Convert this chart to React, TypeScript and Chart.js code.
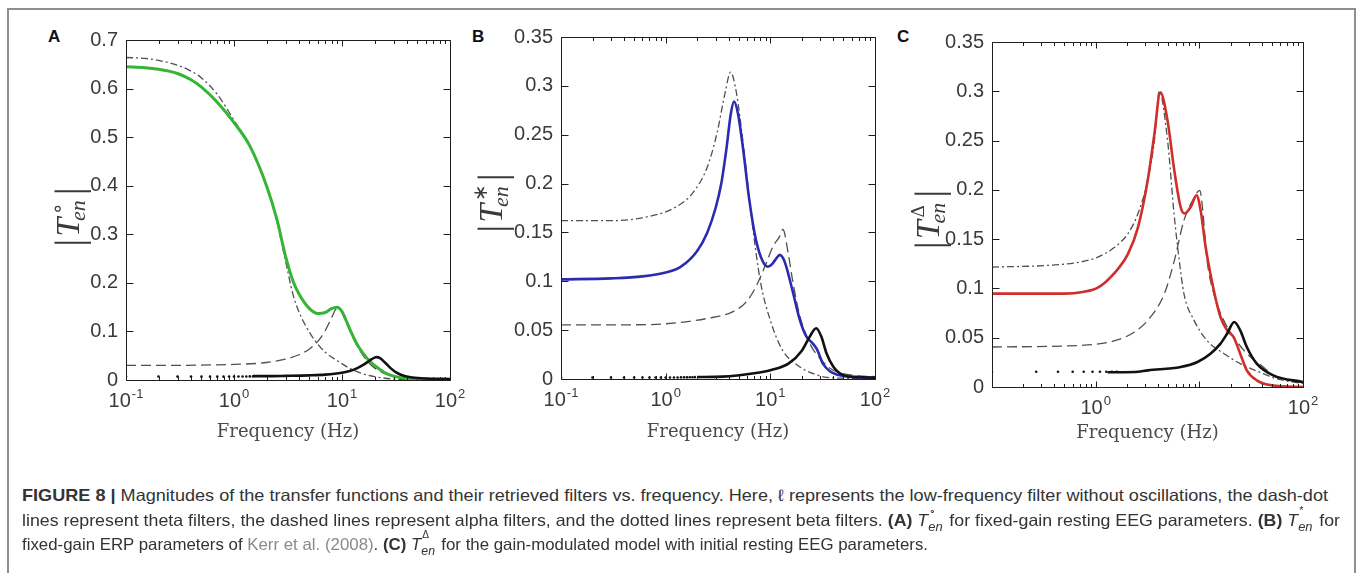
import React, { useEffect, useLayoutEffect, useRef } from 'react';
import { Chart, registerables } from 'chart.js';

Chart.register(...registerables);

// ---------------- tick labels ----------------
const xDecadesAB = [0.1, 1, 10, 100];
const xLabelExpAB = ['-1', '0', '1', '2'];
const xDecadesC = [1, 100];
const xLabelExpC = ['0', '2'];
const yTicksA = [0, 0.1, 0.2, 0.3, 0.4, 0.5, 0.6, 0.7];
const yTicksBC = [0, 0.05, 0.1, 0.15, 0.2, 0.25, 0.3, 0.35];

// ---------------- panel A ----------------
const aThetaF = [0.1, 0.15, 0.2, 0.3, 0.4, 0.5, 0.7, 1, 1.4, 2, 2.5, 3, 3.5, 4, 5, 6, 7, 9, 12, 15, 20, 30, 50, 100];
const aThetaV = [0.664, 0.662, 0.658, 0.648, 0.636, 0.622, 0.588, 0.535, 0.482, 0.4, 0.325, 0.245, 0.178, 0.14, 0.098, 0.073, 0.057, 0.04, 0.023, 0.014, 0.007, 0.002, 0.0005, 0];
const aTotalF = [0.1, 0.15, 0.2, 0.25, 0.3, 0.4, 0.5, 0.7, 1, 1.4, 2, 2.5, 3, 3.5, 4, 5, 6, 7, 8, 9, 10, 11, 12, 14, 17, 20, 25, 30, 40, 60, 100];
const aTotalV = [0.645, 0.643, 0.64, 0.636, 0.631, 0.618, 0.603, 0.572, 0.53, 0.482, 0.4, 0.33, 0.255, 0.205, 0.177, 0.147, 0.137, 0.139, 0.147, 0.15, 0.141, 0.121, 0.101, 0.071, 0.045, 0.03, 0.015, 0.008, 0.003, 0.001, 0.0005];
const aAlphaF = [0.1, 0.3, 0.6, 1, 2, 3, 4, 5, 6, 7, 8, 8.7, 9.2, 10, 11, 12, 14, 17, 20, 25, 30, 40, 60, 100];
const aAlphaV = [0.03, 0.03, 0.031, 0.032, 0.036, 0.043, 0.052, 0.064, 0.08, 0.102, 0.128, 0.145, 0.148, 0.138, 0.118, 0.098, 0.068, 0.04, 0.025, 0.013, 0.007, 0.003, 0.001, 0.0005];
const aBetaF = [1.5, 2, 3, 5, 7, 10, 12, 14, 16, 18, 20, 21, 22.5, 25, 28, 32, 38, 45, 60, 100];
const aBetaV = [0.008, 0.008, 0.0085, 0.0095, 0.011, 0.015, 0.019, 0.025, 0.032, 0.04, 0.046, 0.047, 0.045, 0.036, 0.025, 0.015, 0.008, 0.005, 0.003, 0.002];
const aDotF = [0.1, 0.2, 0.3, 0.4, 0.5, 0.6, 0.7, 0.8, 0.9, 1.0, 1.1, 1.2, 1.3, 1.4, 1.5];
const aDotV = [0.0075, 0.0072, 0.007, 0.007, 0.0069, 0.0069, 0.0069, 0.0069, 0.007, 0.007, 0.0071, 0.0072, 0.0073, 0.0074, 0.0075];

// ---------------- panel B ----------------
const bThetaF = [0.1, 0.3, 0.6, 1.2, 1.8, 2.5, 3.1, 3.7, 4.17, 4.74, 5.5, 6.6, 8, 10, 13, 19, 25, 33, 50, 100];
const bThetaV = [0.162, 0.162, 0.165, 0.175, 0.19, 0.217, 0.252, 0.293, 0.314, 0.293, 0.241, 0.166, 0.101, 0.06, 0.03, 0.0126, 0.006, 0.002, 0.0008, 0];
const bTotalF = [0.1, 0.3, 0.6, 1.0, 1.4, 2, 2.5, 3, 3.4, 3.8, 4.2, 4.5, 4.9, 5.5, 6.3, 7.3, 8.5, 9.5, 10.5, 11.5, 12.3, 13.2, 14.2, 16.5, 19.2, 22.2, 25.6, 28, 31.7, 37, 45, 60, 100];
const bTotalV = [0.102, 0.103, 0.105, 0.109, 0.115, 0.131, 0.15, 0.175, 0.2, 0.235, 0.272, 0.284, 0.272, 0.235, 0.183, 0.142, 0.12, 0.115, 0.118, 0.124, 0.127, 0.124, 0.115, 0.088, 0.06, 0.043, 0.036, 0.03, 0.016, 0.008, 0.004, 0.002, 0.001];
const bAlphaF = [0.1, 0.5, 1, 2.5, 4.4, 5.9, 7.3, 9.1, 10.6, 12.3, 13.2, 14.8, 16.5, 19.2, 23.8, 31.7, 40, 60, 100];
const bAlphaV = [0.0553, 0.0555, 0.0565, 0.062, 0.069, 0.079, 0.0946, 0.118, 0.1356, 0.146, 0.153, 0.129, 0.098, 0.064, 0.0365, 0.0178, 0.009, 0.004, 0.0024];
const bBetaF = [2, 3.5, 7, 10, 15, 20, 23.8, 27.4, 30.7, 34.4, 40, 50, 70, 100];
const bBetaV = [0.002, 0.0024, 0.0058, 0.009, 0.016, 0.029, 0.0434, 0.052, 0.0434, 0.0263, 0.0126, 0.004, 0.002, 0.0014];
const bDotF = [0.1, 0.2, 0.3, 0.4, 0.5, 0.6, 0.7, 0.8, 0.9, 1.0, 1.1, 1.2, 1.3, 1.4, 1.5, 1.6, 1.7, 1.8, 1.9];
const bDotV = [0.0015, 0.0015, 0.0015, 0.0015, 0.0015, 0.0015, 0.0015, 0.0015, 0.0015, 0.0016, 0.0016, 0.0016, 0.0016, 0.0017, 0.0017, 0.0017, 0.0018, 0.0018, 0.0019];

// ---------------- panel C ----------------
const cThetaF = [0.1, 0.35, 0.73, 1.06, 1.53, 2.05, 2.56, 3.18, 3.69, 4.1, 4.94, 5.7, 6.4, 7.1, 8.9, 11.9, 17.2, 24.8, 41.4, 55, 100];
const cThetaV = [0.1217, 0.1234, 0.127, 0.132, 0.142, 0.1556, 0.176, 0.21, 0.25, 0.3, 0.25, 0.176, 0.1285, 0.0947, 0.0676, 0.047, 0.034, 0.0237, 0.0135, 0.0085, 0.0034];
const cTotalF = [0.1, 0.5, 0.75, 1.06, 1.5, 2.05, 2.56, 3.18, 3.69, 4.2, 4.94, 5.73, 6.6, 7.2, 8.25, 9.4, 10.3, 11.5, 13.8, 16, 18.5, 21.4, 24.8, 28.7, 35.8, 50, 100];
const cTotalV = [0.0947, 0.0947, 0.0964, 0.101, 0.115, 0.135, 0.162, 0.21, 0.257, 0.299, 0.27, 0.22, 0.1826, 0.176, 0.1826, 0.1944, 0.179, 0.142, 0.098, 0.071, 0.0575, 0.0507, 0.0338, 0.0169, 0.0068, 0.0017, 0];
const cAlphaF = [0.1, 0.73, 1.53, 2.37, 3.18, 4.6, 5.73, 7.1, 8.6, 10.1, 10.7, 11.9, 13.8, 17.2, 21.4, 28.7, 41.4, 55, 100];
const cAlphaV = [0.0406, 0.0423, 0.047, 0.0558, 0.0676, 0.0947, 0.128, 0.169, 0.189, 0.1995, 0.183, 0.128, 0.0947, 0.0676, 0.0507, 0.034, 0.0203, 0.0101, 0.005];
const cBetaF = [1.3, 2.4, 3.2, 6.6, 9.6, 12.8, 16, 18.5, 21.7, 24.8, 28.7, 35.8, 51.6, 100];
const cBetaV = [0.015, 0.0152, 0.0169, 0.0203, 0.0254, 0.0338, 0.044, 0.054, 0.0659, 0.0575, 0.0406, 0.0237, 0.0118, 0.005];
const cDotF = [0.1, 0.267, 0.433, 0.6, 0.767, 0.933, 1.1, 1.267, 1.433, 1.6];
const cDotV = [0.0155, 0.0155, 0.0155, 0.0155, 0.0155, 0.0155, 0.0155, 0.0155, 0.0155, 0.0155];

// ---------------- helpers ----------------
const pts = (f: number[], v: number[]) => f.map((x, i) => ({ x, y: v[i] }));

function lineDs(data: any[], color: string, width: number, dash: number[] = []) {
  return {
    data,
    borderColor: color,
    borderWidth: width,
    borderDash: dash,
    pointRadius: 0,
    cubicInterpolationMode: 'monotone',
    fill: false,
    borderJoinStyle: 'round',
  };
}
function dotDs(data: any[]) {
  return {
    data,
    showLine: false,
    pointRadius: 1.3,
    pointBorderWidth: 0,
    pointBackgroundColor: '#111',
    pointBorderColor: '#111',
  };
}

const DASH = [10, 5];
const DASHDOT = [7, 3, 2, 3];
const GREY = '#505050';

type PanelCfg = {
  left: number; top: number; width: number; height: number;
  padTop: number; padRight: number; yWidth: number; xHeight: number;
  titlePadBottom: number;
  yMax: number; yTicks: number[];
  xDecades: number[]; xExp: string[];
  sup: string; supFont: string; labelDx: number; labelDy: number;
  datasets: any[];
};

function drawYLabel(ctx: CanvasRenderingContext2D, cx: number, cy: number, sup: string, supFont: string) {
  ctx.save();
  ctx.translate(cx, cy);
  ctx.rotate(-Math.PI / 2);
  ctx.fillStyle = '#3a3a3a';
  ctx.textBaseline = 'alphabetic';
  const barFont = '40px "Liberation Serif"';
  const tFont = 'italic 34px "Liberation Serif"';
  const subFont = 'italic 22px "Liberation Serif"';
  ctx.font = barFont; const wb = ctx.measureText('|').width;
  ctx.font = tFont; const wt = ctx.measureText('T').width;
  ctx.font = subFont; const ws = ctx.measureText('en').width;
  ctx.font = supFont; const wsup = ctx.measureText(sup).width;
  const wscript = Math.max(ws, wsup + 4);
  const total = wb + 2 + wt + wscript + 2 + wb;
  let x = -total / 2;
  const base = 12;
  ctx.font = barFont; ctx.fillText('|', x, base + 3); x += wb + 2;
  ctx.font = tFont; ctx.fillText('T', x, base); x += wt;
  ctx.font = supFont; ctx.fillText(sup, x + 3, base - 15);
  ctx.font = subFont; ctx.fillText('en', x - 3, base + 6); x += wscript + 2;
  ctx.font = barFont; ctx.fillText('|', x, base + 3);
  ctx.restore();
}

function makeAxesPlugin(cfg: PanelCfg) {
  return {
    id: 'matlabAxes',
    afterDraw(chart: any) {
      const { ctx, chartArea } = chart;
      const { left, right, top, bottom } = chartArea;
      const xs = chart.scales.x;
      const ys = chart.scales.y;
      ctx.save();
      ctx.strokeStyle = '#1e1e1e';
      ctx.lineWidth = 1;
      const L = Math.round(left) + 0.5, R = Math.round(right) + 0.5;
      const T = Math.round(top) + 0.5, B = Math.round(bottom) + 0.5;
      ctx.beginPath();
      ctx.rect(L, T, R - L, B - T);
      for (let d = -1; d <= 2; d++) {
        for (let m = 1; m <= 9; m++) {
          const v = m * Math.pow(10, d);
          if (v < 0.0999 || v > 100.01) continue;
          const px = Math.round(xs.getPixelForValue(v)) + 0.5;
          const len = m === 1 ? 6 : 3.5;
          ctx.moveTo(px, B); ctx.lineTo(px, B - len);
          ctx.moveTo(px, T); ctx.lineTo(px, T + len);
        }
      }
      for (const v of cfg.yTicks) {
        const py = Math.round(ys.getPixelForValue(v)) + 0.5;
        ctx.moveTo(L, py); ctx.lineTo(L + 7, py);
        ctx.moveTo(R, py); ctx.lineTo(R - 7, py);
      }
      ctx.stroke();
      ctx.fillStyle = '#3a3a3a';
      ctx.textBaseline = 'alphabetic';
      cfg.xDecades.forEach((v, i) => {
        const px = xs.getPixelForValue(v);
        ctx.font = '20px "Liberation Sans"';
        const w1 = ctx.measureText('10').width;
        ctx.font = '13px "Liberation Sans"';
        const w2 = ctx.measureText(cfg.xExp[i]).width;
        const x0 = px - (w1 + w2 + 1) / 2;
        ctx.font = '20px "Liberation Sans"';
        ctx.fillText('10', x0, bottom + 27);
        ctx.font = '13px "Liberation Sans"';
        ctx.fillText(cfg.xExp[i], x0 + w1 + 1, bottom + 18);
      });
      drawYLabel(ctx, left + cfg.labelDx, (top + bottom) / 2 + cfg.labelDy, cfg.sup, cfg.supFont);
      ctx.restore();
    },
  };
}

function Panel({ cfg }: { cfg: PanelCfg }) {
  const ref = useRef<HTMLCanvasElement | null>(null);
  useEffect(() => {
    if (!ref.current) return;
    const chart = new Chart(ref.current, {
      type: 'line',
      data: { datasets: cfg.datasets },
      options: {
        animation: false,
        responsive: false,
        maintainAspectRatio: false,
        layout: { padding: { top: cfg.padTop, right: cfg.padRight, left: 0, bottom: 0 } },
        plugins: { legend: { display: false }, tooltip: { enabled: false } },
        scales: {
          x: {
            type: 'logarithmic',
            min: 0.1,
            max: 100,
            afterBuildTicks: (s: any) => { s.ticks = cfg.xDecades.map((value) => ({ value })); },
            ticks: { display: false },
            grid: { display: false, drawTicks: false },
            border: { display: false },
            title: {
              display: true,
              text: 'Frequency (Hz)',
              color: '#4a4a4a',
              font: { family: '"DejaVu Serif"', size: 18 },
              padding: { top: 0, bottom: cfg.titlePadBottom },
            },
            afterFit: (s: any) => { s.height = cfg.xHeight; },
          },
          y: {
            type: 'linear',
            min: 0,
            max: cfg.yMax,
            afterBuildTicks: (s: any) => { s.ticks = cfg.yTicks.map((value) => ({ value })); },
            ticks: {
              padding: 8,
              color: '#3a3a3a',
              font: { family: '"Liberation Sans"', size: 20 },
              callback: (v: any) => String(v),
            },
            grid: { display: false, drawTicks: false },
            border: { display: false },
            afterFit: (s: any) => { s.width = cfg.yWidth; },
          },
        },
      } as any,
      plugins: [makeAxesPlugin(cfg)],
    });
    return () => chart.destroy();
  }, [cfg]);
  return (
    <canvas
      ref={ref}
      width={cfg.width}
      height={cfg.height}
      style={{ position: 'absolute', left: cfg.left, top: cfg.top, width: cfg.width, height: cfg.height }}
    />
  );
}

const panelA: PanelCfg = {
  left: 20, top: 20, width: 470, height: 440,
  padTop: 20, padRight: 40, yWidth: 106, xHeight: 80, titlePadBottom: 17,
  yMax: 0.7, yTicks: yTicksA, xDecades: xDecadesAB, xExp: xLabelExpAB,
  sup: '\u2218', supFont: '20px "DejaVu Sans"', labelDx: -59, labelDy: 7,
  datasets: [
    lineDs(pts(aBetaF, aBetaV), '#111', 2.6),
    lineDs(pts(aTotalF, aTotalV), '#35b535', 3),
    lineDs(pts(aAlphaF, aAlphaV), GREY, 1.3, DASH),
    lineDs(pts(aThetaF, aThetaV), GREY, 1.3, DASHDOT),
    dotDs(pts(aDotF, aDotV)),
  ],
};

const panelB: PanelCfg = {
  left: 455, top: 17, width: 440, height: 443,
  padTop: 20, padRight: 20, yWidth: 106, xHeight: 81, titlePadBottom: 17,
  yMax: 0.35, yTicks: yTicksBC, xDecades: xDecadesAB, xExp: xLabelExpAB,
  sup: '\u2217', supFont: '20px "DejaVu Sans"', labelDx: -71, labelDy: -5,
  datasets: [
    lineDs(pts(bBetaF, bBetaV), '#111', 2.6),
    lineDs(pts(bTotalF, bTotalV), '#2b2bb0', 2.6),
    lineDs(pts(bAlphaF, bAlphaV), GREY, 1.3, DASH),
    lineDs(pts(bThetaF, bThetaV), GREY, 1.3, DASHDOT),
    dotDs(pts(bDotF, bDotV)),
  ],
};

const panelC: PanelCfg = {
  left: 886, top: 22, width: 437, height: 443,
  padTop: 20, padRight: 20, yWidth: 106, xHeight: 78, titlePadBottom: 21,
  yMax: 0.35, yTicks: yTicksBC, xDecades: xDecadesC, xExp: xLabelExpC,
  sup: '\u0394', supFont: '19px "Liberation Serif"', labelDx: -65, labelDy: 5,
  datasets: [
    lineDs(pts(cBetaF, cBetaV), '#111', 2.6),
    lineDs(pts(cTotalF, cTotalV), '#cf2e2a', 2.6),
    lineDs(pts(cAlphaF, cAlphaV), GREY, 1.3, DASH),
    lineDs(pts(cThetaF, cThetaV), GREY, 1.3, DASHDOT),
    dotDs(pts(cDotF, cDotV)),
  ],
};

function Tsym({ sup }: { sup: string }) {
  return (
    <span style={{ whiteSpace: 'nowrap' }}>
      <i>T</i>
      <span style={{ position: 'relative', display: 'inline-block', width: 15 }}>
        <span style={{ position: 'absolute', left: 1, top: -9, fontSize: 10 }}>{sup}</span>
        <i style={{ position: 'relative', top: 5, fontSize: 12 }}>en</i>
      </span>
    </span>
  );
}

const captionTargets = [1306, 1318, 906];

function Caption() {
  const refs = [useRef<HTMLDivElement | null>(null), useRef<HTMLDivElement | null>(null), useRef<HTMLDivElement | null>(null)];
  useLayoutEffect(() => {
    refs.forEach((r, i) => {
      const el = r.current;
      if (!el) return;
      el.style.transform = 'none';
      const w = el.getBoundingClientRect().width;
      if (w > 0) el.style.transform = `scaleX(${captionTargets[i] / w})`;
    });
  }, []);
  const base: React.CSSProperties = {
    position: 'absolute',
    left: 22,
    whiteSpace: 'nowrap',
    fontFamily: '"Liberation Sans", Arial, sans-serif',
    fontSize: 16.5,
    color: '#333',
    lineHeight: '20px',
    transformOrigin: '0 50%',
  };
  return (
    <>
      <div ref={refs[0]} style={{ ...base, top: 485 }}>
        <b>FIGURE 8 |</b> Magnitudes of the transfer functions and their retrieved filters vs. frequency. Here, {'\u2113'} represents the low-frequency filter without oscillations, the dash-dot
      </div>
      <div ref={refs[1]} style={{ ...base, top: 510 }}>
        lines represent theta filters, the dashed lines represent alpha filters, and the dotted lines represent beta filters. <b>(A)</b> <Tsym sup={'\u2218'} /> for fixed-gain resting EEG parameters. <b>(B)</b> <Tsym sup={'*'} /> for
      </div>
      <div ref={refs[2]} style={{ ...base, top: 534 }}>
        fixed-gain ERP parameters of <span style={{ color: '#8a8a8a' }}>Kerr et al. (2008)</span>. <b>(C)</b> <Tsym sup={'\u0394'} /> for the gain-modulated model with initial resting EEG parameters.
      </div>
    </>
  );
}

const letterStyle: React.CSSProperties = {
  position: 'absolute',
  fontFamily: '"Liberation Sans", Arial, sans-serif',
  fontWeight: 'bold',
  fontSize: 17,
  lineHeight: '17px',
  color: '#111',
};

export default function App() {
  return (
    <div style={{ position: 'absolute', left: 0, top: 0, width: 1358, height: 573, overflow: 'hidden', background: '#fff' }}>
      <div style={{ position: 'absolute', left: 7, top: 8, width: 1345, height: 600, border: '2px solid #8e8e8e', borderBottom: 'none' }} />
      <div style={{ ...letterStyle, left: 48, top: 28 }}>A</div>
      <div style={{ ...letterStyle, left: 472, top: 28 }}>B</div>
      <div style={{ ...letterStyle, left: 897, top: 28 }}>C</div>
      <Panel cfg={panelA} />
      <Panel cfg={panelB} />
      <Panel cfg={panelC} />
      <Caption />
    </div>
  );
}
